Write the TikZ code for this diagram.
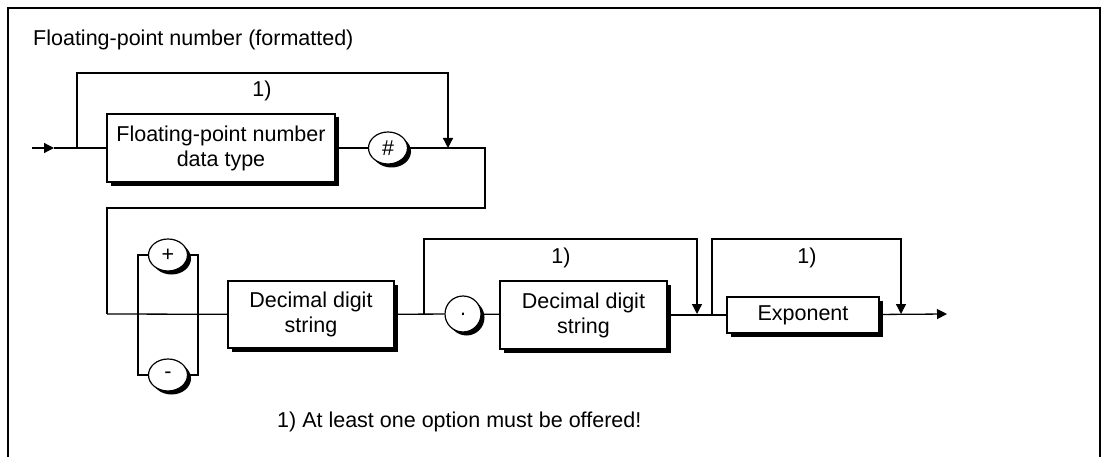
\documentclass[tikz,border=0pt]{standalone}
\usepackage{fontspec}
\setmainfont{Liberation Sans}
\usetikzlibrary{arrows.meta,shapes.geometric,shadows}
\newcommand\dfs{\fontsize{21.5}{25}\selectfont}
\tikzset{
  conn/.style={line width=1.3pt, line join=miter},
  arr/.style={conn, -{Triangle[length=10pt,width=10pt]}},
  shad/.style={drop shadow={opacity=1, fill=black, shadow xshift=3.5pt, shadow yshift=-3.5pt}},
  box/.style={draw, line width=1.2pt, fill=white, align=center, inner sep=0pt, font=\dfs, shad},
  term/.style={ellipse, draw, line width=1.2pt, fill=white, inner sep=0pt, font=\dfs, shad},
  lbl/.style={font=\dfs, inner sep=0pt, anchor=base}
}
\begin{document}
\begin{tikzpicture}[x=1pt,y=-1pt]
\useasboundingbox (0,0) rectangle (1107,457);
% frame
\draw[line width=2pt] (8,457) -- (8,8) -- (1100,8) -- (1100,457);
\node[lbl, anchor=base west] (title) at (33,46) {Floating-point number (formatted)};
% row 1
\node[box, minimum width=228pt, minimum height=68pt] (fp) at (221,148) {Floating-point number\\data type};
\node[term, minimum width=39pt, minimum height=32pt] (hash) at (388,148) {\#};
\coordinate (s) at (32,148);
\coordinate (t1) at (54,148);
\coordinate (j1) at (77,148);
\coordinate (m1u) at (448,73);
\coordinate (m1) at (448,148);
\coordinate (c1) at (485,148);
\coordinate (c2) at (485,208);
\coordinate (c3) at (107,208);
\coordinate (c4) at (107,314);
\node[lbl] (n1) at (262,97) {1)};
\draw[arr] (s) -- (t1);
\draw[conn] (t1) -- (fp);
\draw[conn] (fp) -- (hash);
\draw[arr] (j1) |- (m1u) -- (m1);
\draw[conn] (hash) -- (c1) -- (c2) -- (c3) -- (c4);
% row 2
\node[term, minimum width=39pt, minimum height=32pt] (plus) at (168,255) {+};
\node[term, minimum width=39pt, minimum height=32pt] (minus) at (168,375) {-};
\coordinate (bl) at (138,314);
\coordinate (br) at (198,314);
\node[box, minimum width=166pt, minimum height=67pt] (dds1) at (311,314.5) {Decimal digit\\string};
\node[term, minimum width=36pt, minimum height=36pt] (dot) at (463,314) {.};
\node[box, minimum width=167pt, minimum height=68pt] (dds2) at (583.5,315) {Decimal digit\\string};
\node[box, minimum width=152pt, minimum height=36pt] (exp) at (803,315) {Exponent};
\coordinate (j2) at (424,314);
\coordinate (m2u) at (697,239);
\coordinate (m2) at (697,314);
\coordinate (j3) at (712,314);
\coordinate (m3u) at (901,239);
\coordinate (m3) at (901,314);
\coordinate (e) at (947,314);
\node[lbl] (n2) at (561,263) {1)};
\node[lbl] (n3) at (807,263) {1)};
\draw[conn] (c4) -- (dds1);
\draw[conn] (plus) -| (bl) |- (minus);
\draw[conn] (plus) -| (br) |- (minus);
\draw[conn] (dds1) -- (dot);
\draw[conn] (dot) -- (dds2);
\draw[arr] (j2) |- (m2u) -- (m2);
\draw[conn] (dds2) -- (exp);
\draw[arr] (j3) |- (m3u) -- (m3);
\draw[arr] (exp) -- (e);
\node[lbl, anchor=base west] (foot) at (277,427) {1) At least one option must be offered!};
\end{tikzpicture}
\end{document}
